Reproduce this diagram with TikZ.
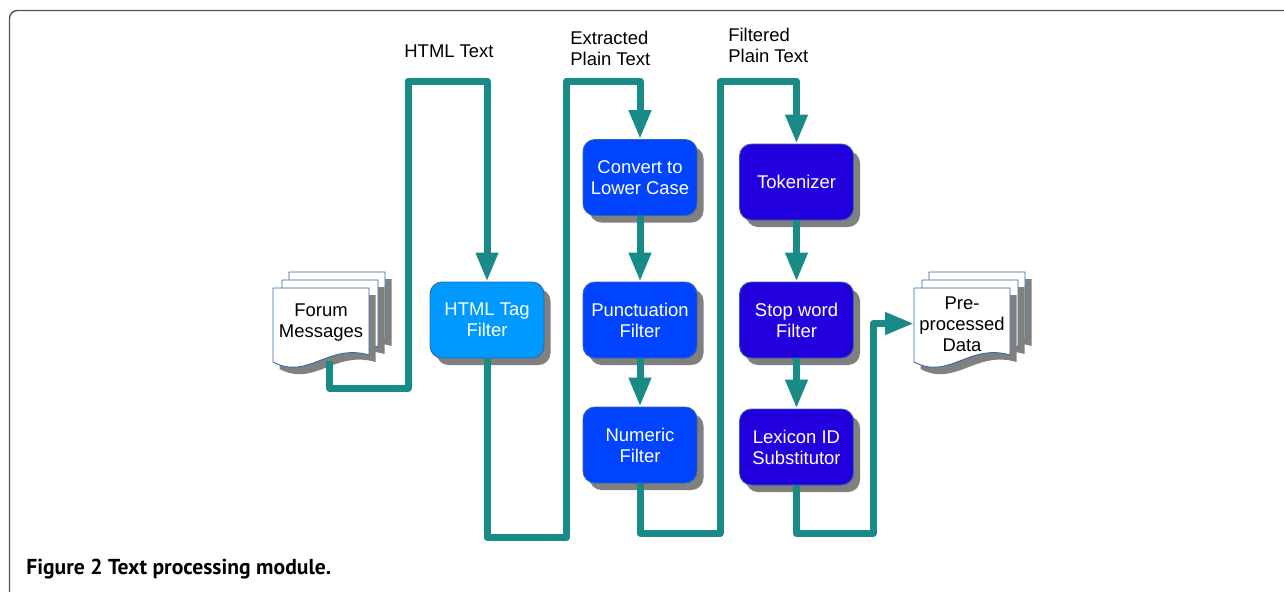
\documentclass[tikz,border=0pt]{standalone}
\usepackage{fontspec}
\setmainfont{Liberation Sans}
\newfontfamily\capfont{PT Sans}
\usetikzlibrary{shadows,arrows.meta,positioning}

\definecolor{flowteal}{HTML}{1A8A87}
\definecolor{htmlblue}{HTML}{0099FF}
\definecolor{midblue}{HTML}{0044FF}
\definecolor{deepblue}{HTML}{2200DD}
\definecolor{edgeblue}{HTML}{3465A4}
\definecolor{shadowgray}{HTML}{808080}
\definecolor{framegray}{HTML}{555555}

\tikzset{
  boxshadow/.style={drop shadow={shadow xshift=0.13cm, shadow yshift=-0.14cm, fill=shadowgray, opacity=1}},
  procbox/.style={rectangle, rounded corners=0.24cm, draw=edgeblue, line width=0.5pt, text=white, minimum width=2.28cm, minimum height=1.52cm, align=center, inner sep=0pt, font=\fontsize{10.5}{12}\selectfont, boxshadow},
  docpage/.style={fill=white, draw=edgeblue, line width=0.5pt, boxshadow},
  flow/.style={draw=flowteal, line width=0.14cm, line join=round, -{Triangle[width=0.42cm,length=0.58cm]}},
  lbl/.style={font=\fontsize{10.5}{12}\selectfont, inner sep=0pt},
}

\newcommand{\docpage}[2]{%
  \filldraw[docpage, shift={(#1,#2)}] (0,0) -- (1.92,0) -- (1.92,-1.34)
    .. controls (1.1,-1.1) and (0.7,-1.85) .. (0,-1.48) -- cycle;}

\begin{document}
\begin{tikzpicture}
\useasboundingbox (0,0) rectangle (25.68,-11.82);
\draw[framegray, line width=0.8pt, rounded corners=0.16cm] (0.19,-0.21) rectangle (26.5,-12.5);

\docpage{5.78}{-5.44}
\docpage{5.64}{-5.60}
\docpage{5.46}{-5.76}
\node[lbl, align=center] (forum) at (6.42,-6.45) {Forum\\Messages};

\docpage{18.58}{-5.44}
\docpage{18.44}{-5.60}
\docpage{18.28}{-5.76}
\node[lbl, align=center] (prep) at (19.24,-6.49) {Pre-\\processed\\Data};

\node[procbox, fill=htmlblue] (html) at (9.74,-6.40) {HTML Tag\\Filter};
\node[procbox, fill=midblue] (lower) at (12.80,-3.55) {Convert to\\Lower Case};
\node[procbox, fill=midblue] (punct) at (12.80,-6.40) {Punctuation\\Filter};
\node[procbox, fill=midblue] (numeric) at (12.80,-8.90) {Numeric\\Filter};
\node[procbox, fill=deepblue] (token) at (15.93,-3.64) {Tokenizer};
\node[procbox, fill=deepblue] (stop) at (15.93,-6.40) {Stop word\\Filter};
\node[procbox, fill=deepblue] (lexicon) at (15.93,-8.94) {Lexicon ID\\Substitutor};

\node[lbl] (htmltext) at (8.98,-1.03) {HTML Text};
\node[lbl, align=left, anchor=west] (extracted) at (11.40,-0.97) {Extracted\\Plain Text};
\node[lbl, align=left, anchor=west] (filtered) at (14.56,-0.90) {Filtered\\Plain Text};

\coordinate (forumout) at (6.59,-7.22);
\coordinate (prepin) at (18.28,-6.47);

\draw[flow] (forumout) |- (8.16,-7.76) -- (8.16,-1.62) -| (html.north);
\draw[flow] (html.south) |- (11.33,-10.75) -- (11.33,-1.62) -| (lower.north);
\draw[flow] (lower) -- (punct);
\draw[flow] (punct) -- (numeric);
\draw[flow] (numeric.south) |- (14.41,-10.66) -- (14.41,-1.62) -| (token.north);
\draw[flow] (token) -- (stop);
\draw[flow] (stop) -- (lexicon);
\draw[flow] (lexicon.south) |- (17.46,-10.67) |- (prepin);

\node[anchor=base west, inner sep=0pt, font=\capfont\bfseries\fontsize{12.3}{14}\selectfont] (caption) at (0.52,-11.48) {Figure 2 Text processing module.};
\end{tikzpicture}
\end{document}
